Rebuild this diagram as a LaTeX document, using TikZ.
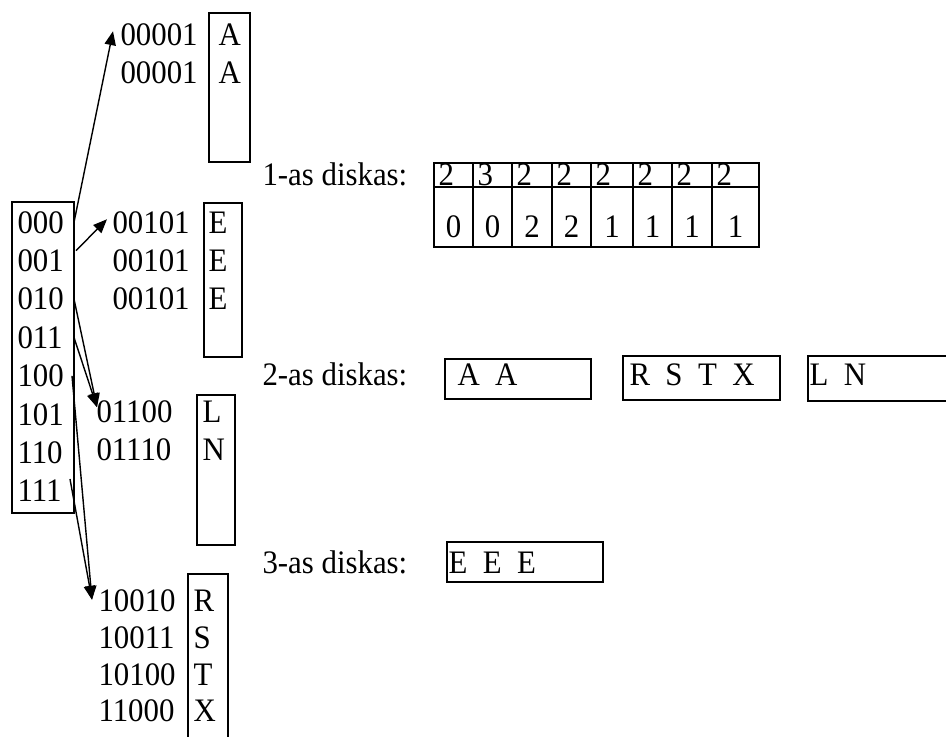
\documentclass[tikz,border=0pt]{standalone}
\usepackage{fontspec}
\setmainfont{Liberation Serif}[FakeStretch=0.94]
\usetikzlibrary{arrows.meta,calc}
\begin{document}
\begin{tikzpicture}[x=0.39pt,y=-0.39pt,
  box/.style={line width=0.8pt},
  txt/.style={inner sep=0pt,anchor=base west,font=\fontsize{12.8}{15}\selectfont},
  arr/.style={line width=0.55pt,-{Triangle[length=5.4pt,width=4.4pt]}}]
\useasboundingbox (0,0) rectangle (946,736);
\clip (0,0) rectangle (946,736);
% directory
\path (12,202) coordinate (dirNW) (74,513) coordinate (dirSE);
\draw[box] (dirNW) rectangle (dirSE);
\foreach \t [count=\i from 0] in {000,001,010,011,100,101,110,111}
  \node[txt] (r\i) at (17,{233+38.4*\i}) {\t};
% bucket A
\draw[box] (209,13) rectangle (250,162);
\node[txt] (a1) at (120,45) {00001};
\node[txt] (a2) at (120,83) {00001};
\node[txt] (a1v) at (218,45) {A};
\node[txt] (a2v) at (218,83) {A};
% bucket E
\draw[box] (204,203) rectangle (242,357);
\foreach \i in {1,2,3}{
  \node[txt] (e\i) at (112,{194.6+38.4*\i}) {00101};
  \node[txt] (e\i v) at (208,{194.6+38.4*\i}) {E};
}
% bucket L
\draw[box] (197,395) rectangle (235,545);
\node[txt] (l1) at (96,422) {01100};
\node[txt] (l2) at (96,460) {01110};
\node[txt] (l1v) at (202,422) {L};
\node[txt] (l2v) at (202,460) {N};
% bucket R
\draw[box] (188,574) rectangle (228,760);
\foreach \k/\v [count=\i] in {10010/R,10011/S,10100/T,11000/X}{
  \node[txt] (x\i) at (98,{574.7+36.8*\i}) {\k};
  \node[txt] (x\i v) at (193,{574.7+36.8*\i}) {\v};
}
% pointers
\draw[arr] (r0 -| dirSE) -- ($(a1.west)+(-7,-3)$);
\draw[arr] ($(r1 -| dirSE)+(2,-10)$) -- ($(e1.west)+(-5,-3)$);
\draw[arr] (r2 -| dirSE) -- ($(l1.west)+(1,-4)$);
\draw[arr] (r3 -| dirSE) -- ($(l1.west)+(1,-4)$);
\draw[arr] ($(r4 -| dirSE)+(-2,0)$) -- ($(x1.west)+(-6,-1)$);
\draw[arr] ($(r7 -| dirSE)+(-4,-12)$) -- ($(x1.west)+(-6,-1)$);
% disks
\node[txt] (d1) at (262,185) {1-as diskas:};
\node[txt] (d2) at (262,385) {2-as diskas:};
\node[txt] (d3) at (262,573) {3-as diskas:};
\foreach \l/\r/\t/\b [count=\i] in {434/473/2/0,473/512/3/0,512/552/2/2,552/591/2/2,591/633/2/1,633/672/2/1,672/712/2/1,712/759/2/1}{
  \draw[box] (\l,163) rectangle (\r,187);
  \draw[box] (\l,187) rectangle (\r,247);
  \node[txt] (t\i) at ({\l+4},185) {\t};
  \node[txt,anchor=base] (b\i) at ({(\l+\r)/2},237) {\b};
}
\draw[box] (445,359) rectangle (591,399);
\node[txt] (s1) at (457,385) {A~~A};
\draw[line width=0.5pt] (623,356) rectangle (780,400);
\node[txt] (s2) at (629,385) {R~~S~~T~~X};
\draw[box] (808,356) rectangle (960,401);
\node[txt] (s3) at (809,385) {L~~N};
\draw[box] (447,542) rectangle (603,582);
\node[txt] (s4) at (448,573) {E~~E~~E};
\end{tikzpicture}
\end{document}
